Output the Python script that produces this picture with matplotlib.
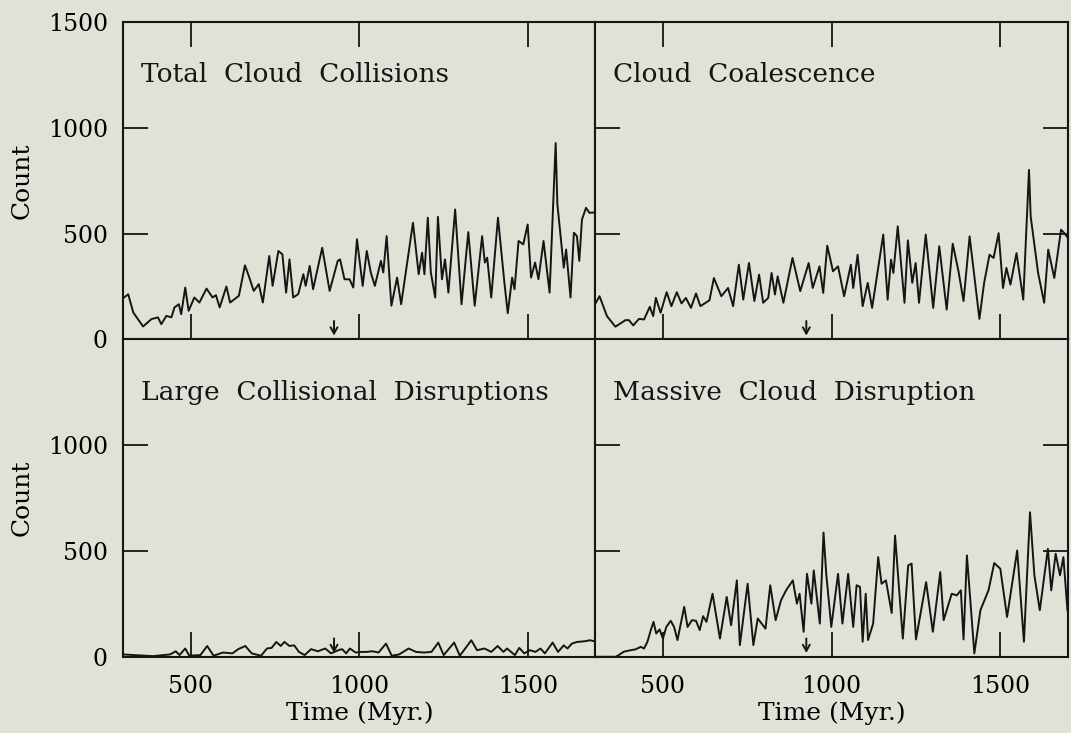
import matplotlib
matplotlib.use('Agg')
import matplotlib.pyplot as plt
import numpy as np

plt.rcParams['font.family'] = ['DejaVu Serif']

# ---- data (time in Myr, counts) ----
tcc_time = [300, 315, 330, 359, 384, 403, 413, 428, 443, 452, 465, 472, 484, 494, 511, 526,
            547, 565, 575, 586, 606, 617, 643, 661, 674, 687, 702, 714, 733, 743, 760, 772,
            783, 793, 804, 819, 834, 841, 853, 863, 890, 912, 936, 943, 956, 971, 982, 993,
            1010, 1022, 1034, 1046, 1064, 1071, 1081, 1095, 1112, 1124, 1159, 1176, 1186, 1193,
            1203, 1212, 1225, 1233, 1245, 1254, 1264, 1284, 1303, 1323, 1342, 1364, 1372, 1379,
            1391, 1411, 1430, 1440, 1453, 1460, 1472, 1486, 1499, 1509, 1521, 1531, 1546, 1564,
            1582, 1587, 1606, 1613, 1626, 1636, 1645, 1652, 1660, 1672, 1682, 1698]
tcc_count = [195, 213, 127, 61, 96, 104, 72, 111, 104, 151, 166, 119, 245, 135, 198, 174,
             240, 198, 209, 151, 250, 174, 206, 350, 292, 229, 261, 174, 394, 253, 418, 402,
             221, 378, 198, 214, 308, 253, 347, 237, 433, 229, 371, 378, 284, 284, 245, 473,
             253, 418, 316, 253, 371, 316, 488, 159, 292, 166, 551, 308, 410, 308,
             575, 316, 198, 579, 284, 378, 221, 614, 166, 507, 159, 488, 363, 386,
             198, 575, 268, 124, 292, 237, 465, 449, 543, 292, 363, 284, 465, 221,
             928, 640, 339, 425, 198, 504, 488, 371, 567, 622, 598, 600]

cc_time = [300, 312, 334, 359, 389, 399, 412, 429, 444, 461, 471, 479, 493, 511, 525, 541,
           555, 568, 583, 598, 611, 638, 651, 673, 693, 708, 725, 738, 755, 771, 785, 797,
           812, 822, 832, 840, 857, 884, 907, 932, 944, 964, 975, 987, 1004, 1019, 1037, 1057,
           1064, 1077, 1092, 1107, 1120, 1153, 1166, 1176, 1183, 1196, 1216, 1226, 1239, 1249,
           1259, 1279, 1301, 1319, 1341, 1359, 1376, 1391, 1409, 1438, 1452, 1468, 1480, 1495,
           1508, 1518, 1530, 1548, 1568, 1585, 1590, 1612, 1630, 1642, 1660, 1680, 1690, 1700]
cc_count = [170, 204, 110, 60, 91, 91, 66, 97, 94, 154, 110, 196, 126, 223, 157, 223,
            170, 196, 149, 217, 157, 185, 290, 204, 243, 157, 353, 188, 361, 181, 306, 173,
            196, 314, 212, 298, 173, 385, 228, 361, 243, 345, 220, 443, 322, 345, 204, 353,
            243, 400, 157, 267, 149, 495, 188, 377, 314, 534, 173, 468, 267, 361,
            173, 495, 149, 440, 141, 452, 322, 181, 487, 97, 267, 400, 385, 502,
            243, 338, 259, 408, 188, 801, 581, 314, 173, 424, 290, 518, 502, 480]

lcd_time = [300, 388, 439, 456, 467, 484, 496, 529, 549, 568, 596, 624, 641, 662, 681, 709,
            726, 740, 754, 767, 778, 793, 807, 821, 838, 857, 877, 899, 916, 938, 949, 961,
            972, 989, 1006, 1022, 1039, 1057, 1079, 1096, 1118, 1146, 1168, 1191, 1214, 1234,
            1250, 1281, 1298, 1332, 1349, 1371, 1391, 1410, 1427, 1438, 1461, 1474, 1489, 1506,
            1522, 1537, 1550, 1573, 1589, 1606, 1617, 1630, 1645, 1667, 1684, 1700]
lcd_count = [11, 3, 11, 26, 8, 39, 5, 8, 51, 5, 20, 16, 36, 51, 16, 5,
             39, 42, 70, 51, 70, 51, 54, 23, 8, 36, 26, 39, 16, 31, 36, 16,
             39, 20, 23, 23, 26, 20, 62, 5, 11, 39, 23, 20, 23, 67,
             8, 67, 5, 78, 31, 39, 23, 51, 23, 39, 8, 42, 16, 31,
             23, 39, 16, 67, 23, 54, 39, 62, 70, 73, 78, 72]

mcd_time = [300, 360, 369, 384, 404, 419, 434, 444, 454, 464, 472, 480, 490, 500, 510, 523,
            533, 543, 563, 573, 586, 598, 609, 619, 629, 647, 669, 689, 702, 719, 728, 751,
            768, 781, 804, 818, 834, 850, 865, 885, 897, 905, 917, 927, 940, 947, 965, 976,
            984, 999, 1019, 1032, 1049, 1064, 1074, 1084, 1092, 1101, 1108, 1123, 1138, 1148,
            1161, 1178, 1188, 1211, 1227, 1237, 1250, 1280, 1300, 1322, 1332, 1356, 1371, 1383,
            1391, 1401, 1423, 1441, 1465, 1482, 1500, 1520, 1550, 1570, 1588, 1601, 1617, 1641,
            1651, 1664, 1677, 1687, 1699]
mcd_count = [0, 0, 8, 24, 31, 35, 47, 39, 71, 126, 165, 110, 129, 86, 141, 170,
             141, 79, 236, 141, 173, 170, 126, 192, 165, 298, 86, 283, 149, 361, 55, 345,
             55, 181, 133, 338, 173, 267, 314, 361, 251, 298, 118, 392, 251, 408, 157, 587,
             392, 141, 392, 157, 392, 141, 338, 330, 71, 298, 79, 157, 471, 345,
             361, 207, 573, 86, 432, 440, 82, 353, 118, 400, 173, 298, 290, 314,
             82, 479, 16, 220, 314, 443, 416, 188, 502, 71, 683, 385, 220, 510,
             314, 487, 385, 471, 220]

panel_titles = ['Total  Cloud  Collisions', 'Cloud  Coalescence',
                'Large  Collisional  Disruptions', 'Massive  Cloud  Disruption']
series = [(tcc_time, tcc_count), (cc_time, cc_count), (lcd_time, lcd_count), (mcd_time, mcd_count)]
arrow_time = 925
xtick_vals = [500, 1000, 1500]

bg = '#e0e1d7'
ink = '#151515'

fig = plt.figure(figsize=(10.71, 7.33), dpi=100, facecolor=bg)
axes = fig.subplots(2, 2, gridspec_kw=dict(hspace=0, wspace=0, left=0.115, right=0.997,
                                            top=0.970, bottom=0.104))

for i, ax in enumerate(axes.flat):
    t, c = series[i]
    ax.set_facecolor(bg)
    ax.plot(t, c, color=ink, linewidth=1.4)
    ax.set_xlim(300, 1700)
    ax.set_ylim(0, 1500)
    for s in ax.spines.values():
        s.set_linewidth(1.5)
        s.set_color(ink)
    row, col = divmod(i, 2)

    ax.set_xticks(xtick_vals)
    if row == 0:
        ax.set_yticks([0, 500, 1000, 1500])
    else:
        ax.set_yticks([0, 500, 1000])
    ax.tick_params(direction='in', length=18, width=1.3, color=ink, labelsize=17,
                   top=(row == 0), right=(col == 1), labelbottom=(row == 1),
                   labelleft=(col == 0))
    ax.tick_params(axis='x', pad=13)
    ax.tick_params(axis='y', pad=11)

    ax.text(352, 1215, panel_titles[i], fontsize=19, ha='left', va='baseline', color=ink)
    ax.annotate('', xy=(arrow_time, 5), xytext=(arrow_time, 100),
                arrowprops=dict(arrowstyle='->, head_width=0.25, head_length=0.45',
                                lw=1.4, color=ink))

    if col == 0:
        ax.set_ylabel('Count', fontsize=18)
        ax.yaxis.set_label_coords(-0.19, 0.5)
    if row == 1:
        ax.set_xlabel('Time (Myr.)', fontsize=18)
        ax.xaxis.set_label_coords(0.5, -0.14)

fig.savefig('out.png', dpi=100, facecolor=bg)
